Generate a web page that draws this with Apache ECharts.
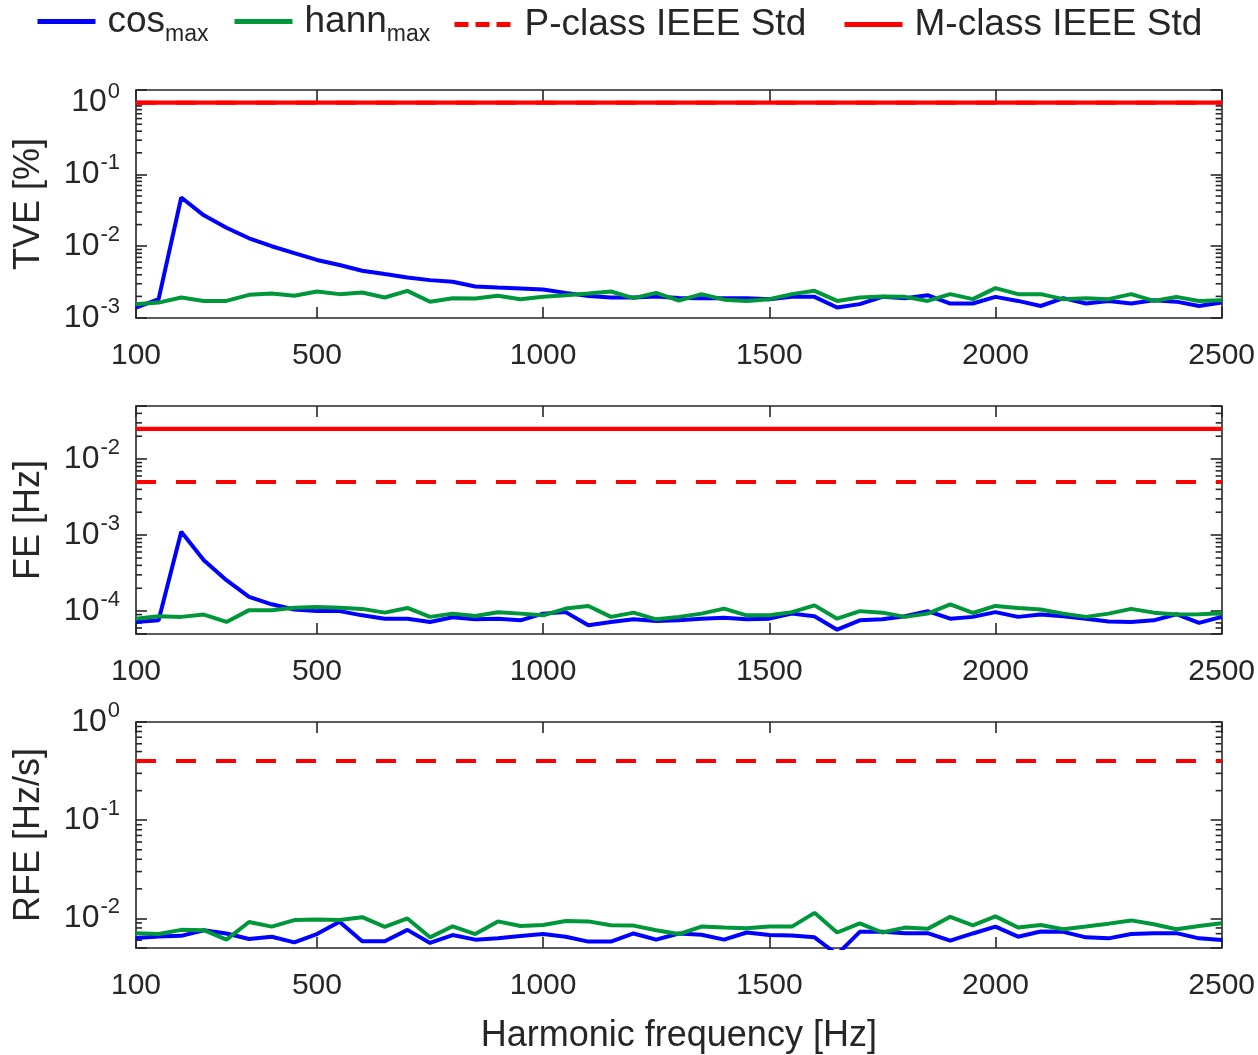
<!DOCTYPE html>
<html><head><meta charset="utf-8">
<script src="https://cdn.jsdelivr.net/npm/echarts@6/dist/echarts.min.js"></script>
<style>html,body{margin:0;padding:0;background:#fff}#c{width:1258px;height:1055px}</style>
</head><body><div id="c"></div>
<script>
// ---------- data ----------
const freq = [100,150,200,250,300,350,400,450,500,550,600,650,700,750,800,850,900,950,1000,1050,1100,1150,1200,1250,1300,1350,1400,1450,1500,1550,1600,1650,1700,1750,1800,1850,1900,1950,2000,2050,2100,2150,2200,2250,2300,2350,2400,2450,2500];
const xTickValues = [100,500,1000,1500,2000,2500];

const tveCos = [1.40e-3,1.83e-3,0.0477,0.0269,0.0181,0.0129,0.0100,0.0080,0.00644,0.00547,0.00456,0.00409,0.00367,0.00337,0.00320,0.00275,0.00266,0.00258,0.00249,0.00224,0.00203,0.00193,0.00193,0.00199,0.00190,0.00189,0.00189,0.00189,0.00183,0.00197,0.00197,0.00140,0.00156,0.00197,0.00189,0.00208,0.00159,0.00159,0.00197,0.00173,0.00147,0.00189,0.00159,0.00173,0.00159,0.00177,0.00169,0.00147,0.00164];
const tveHann = [1.56e-3,1.64e-3,1.93e-3,1.73e-3,1.73e-3,2.10e-3,2.19e-3,2.04e-3,2.34e-3,2.15e-3,2.27e-3,1.93e-3,2.39e-3,1.68e-3,1.89e-3,1.87e-3,2.04e-3,1.83e-3,1.97e-3,2.08e-3,2.19e-3,2.34e-3,1.89e-3,2.24e-3,1.75e-3,2.15e-3,1.80e-3,1.73e-3,1.83e-3,2.15e-3,2.39e-3,1.73e-3,1.93e-3,2.00e-3,1.97e-3,1.73e-3,2.15e-3,1.83e-3,2.61e-3,2.15e-3,2.15e-3,1.83e-3,1.89e-3,1.83e-3,2.15e-3,1.73e-3,1.97e-3,1.73e-3,1.77e-3];

const feCos = [7.2e-5,7.57e-5,1.11e-3,4.68e-4,2.55e-4,1.54e-4,1.23e-4,1.05e-4,1.0e-4,1.0e-4,8.8e-5,7.96e-5,7.96e-5,7.2e-5,8.3e-5,7.8e-5,7.96e-5,7.57e-5,9.27e-5,9.7e-5,6.5e-5,7.2e-5,7.8e-5,7.4e-5,7.57e-5,7.96e-5,8.2e-5,7.8e-5,7.96e-5,9.27e-5,8.55e-5,5.7e-5,7.57e-5,7.8e-5,8.55e-5,1.0e-4,7.96e-5,8.4e-5,9.7e-5,8.4e-5,9.0e-5,8.55e-5,7.96e-5,7.3e-5,7.2e-5,7.57e-5,9.1e-5,7.0e-5,8.4e-5];
const feHann = [7.96e-5,8.55e-5,8.4e-5,9.0e-5,7.2e-5,1.03e-4,1.03e-4,1.11e-4,1.13e-4,1.11e-4,1.07e-4,9.55e-5,1.10e-4,8.4e-5,9.27e-5,8.65e-5,9.66e-5,9.27e-5,8.8e-5,1.08e-4,1.17e-4,8.4e-5,9.55e-5,7.8e-5,8.4e-5,9.27e-5,1.08e-4,8.8e-5,8.8e-5,9.7e-5,1.19e-4,7.96e-5,1.0e-4,9.55e-5,8.4e-5,9.27e-5,1.23e-4,9.45e-5,1.17e-4,1.10e-4,1.05e-4,9.27e-5,8.4e-5,9.27e-5,1.07e-4,9.55e-5,9.0e-5,9.1e-5,9.4e-5];

const rfeCos = [6.32e-3,6.56e-3,6.65e-3,7.59e-3,7.03e-3,6.18e-3,6.5e-3,5.71e-3,6.93e-3,9.27e-3,5.85e-3,5.85e-3,7.65e-3,5.63e-3,6.77e-3,6.08e-3,6.27e-3,6.62e-3,6.93e-3,6.5e-3,5.81e-3,5.81e-3,7.03e-3,6.08e-3,7.03e-3,6.82e-3,6.08e-3,7.19e-3,6.77e-3,6.72e-3,6.42e-3,4.3e-3,7.3e-3,7.3e-3,7.08e-3,7.08e-3,5.95e-3,7.03e-3,8.26e-3,6.52e-3,7.36e-3,7.3e-3,6.42e-3,6.27e-3,6.93e-3,7.08e-3,7.08e-3,6.27e-3,6.03e-3];
const rfeHann = [7.08e-3,6.93e-3,7.65e-3,7.59e-3,6.08e-3,9.2e-3,8.26e-3,9.62e-3,9.77e-3,9.62e-3,1.03e-2,8.2e-3,1.0e-2,6.42e-3,8.32e-3,6.93e-3,9.33e-3,8.38e-3,8.58e-3,9.4e-3,9.33e-3,8.52e-3,8.45e-3,7.59e-3,6.93e-3,8.26e-3,8.07e-3,7.95e-3,8.26e-3,8.26e-3,1.14e-2,7.19e-3,8.92e-3,7.19e-3,8.07e-3,7.83e-3,1.04e-2,8.52e-3,1.05e-2,8.07e-3,8.58e-3,7.77e-3,8.26e-3,8.85e-3,9.55e-3,8.71e-3,7.77e-3,8.38e-3,8.92e-3];

// IEEE Std limits: [P-class, M-class]
const tveLimits = [1, 1];
const feLimits = [0.005, 0.025];
const rfeLimits = [0.4, null];

const seriesNames = ['cos', 'hann', 'P-class IEEE Std', 'M-class IEEE Std'];
const yTitles = ['TVE [%]', 'FE [Hz]', 'RFE [Hz/s]'];
const yRanges = [[1e-3, 1.5], [5e-5, 5e-2], [5e-3, 1]];

// ---------- chart ----------
const FONT = 'Liberation Sans, Arial, Helvetica, sans-serif';
const INK = '#262626';
const BLUE = '#0000FF', GREEN = '#00963A', RED = '#FF0000';
const gridTops = [90, 406, 722];
const gridH = 228;
const xMin = freq[0], xMax = freq[freq.length - 1];

const panels = [
  {cos: tveCos, hann: tveHann, lim: tveLimits},
  {cos: feCos, hann: feHann, lim: feLimits},
  {cos: rfeCos, hann: rfeHann, lim: rfeLimits}
];

function pairs(ys) { return freq.map((f, i) => [f, ys[i]]); }
function minorTicks(r) {
  const out = [];
  for (let k = Math.floor(Math.log10(r[0])) ; k <= Math.ceil(Math.log10(r[1])); k++) {
    for (let m = 2; m <= 9; m++) {
      const v = m * Math.pow(10, k);
      if (v > r[0] * 1.0001 && v < r[1] * 0.9999) out.push([v]);
    }
  }
  return out;
}
function supLabel(v) {
  const e = Math.log10(v);
  const r = Math.round(e);
  if (Math.abs(e - r) > 1e-6) return '';
  return '{b|10}{e|' + r + '}';
}

const grid = [], xAxis = [], yAxis = [], series = [];
panels.forEach((p, i) => {
  grid.push({left: 136, right: 36, top: gridTops[i], height: gridH, show: false});
  const axLine = {show: true, lineStyle: {color: INK, width: 1.6}};
  const tick = {show: true, inside: true, length: 11, lineStyle: {color: INK, width: 1.6}};
  xAxis.push({
    type: 'value', gridIndex: i, min: xMin, max: xMax, position: 'bottom',
    axisLine: axLine, splitLine: {show: false},
    axisTick: Object.assign({customValues: xTickValues}, tick),
    axisLabel: {show: true, customValues: xTickValues, margin: 23, fontSize: 30, color: INK, fontFamily: FONT,
      formatter: v => String(v)},
    name: i === 2 ? 'Harmonic frequency [Hz]' : '', nameLocation: 'middle', nameGap: 70,
    nameTextStyle: {fontSize: 36, color: INK, fontFamily: FONT}
  });
  xAxis.push({
    type: 'value', gridIndex: i, min: xMin, max: xMax, position: 'top',
    axisLine: axLine, splitLine: {show: false},
    axisTick: Object.assign({customValues: xTickValues}, tick),
    axisLabel: {show: false}
  });
  const r = yRanges[i];
  yAxis.push({
    type: 'log', logBase: 10, gridIndex: i, min: r[0], max: r[1], position: 'left',
    axisLine: axLine, splitLine: {show: false},
    axisTick: tick,
    axisLabel: {
      show: true, margin: 16, formatter: supLabel, color: INK, fontFamily: FONT,
      rich: {
        b: {fontSize: 32, color: INK, fontFamily: FONT},
        e: {fontSize: 22, color: INK, fontFamily: FONT, padding: [0, 0, 22, 1]}
      }
    },
    name: yTitles[i], nameLocation: 'middle', nameGap: 89,
    nameTextStyle: {fontSize: 36, color: INK, fontFamily: FONT}
  });
  yAxis.push({
    type: 'log', logBase: 10, gridIndex: i, min: r[0], max: r[1], position: 'right',
    axisLine: axLine, splitLine: {show: false},
    axisTick: tick,
    axisLabel: {show: false}
  });

  const xi = 2 * i, yi = 2 * i;
  series.push({name: seriesNames[0], type: 'line', xAxisIndex: xi, yAxisIndex: yi, data: pairs(p.cos),
    symbol: 'none', lineStyle: {color: BLUE, width: 4}, itemStyle: {color: BLUE}, z: 3});
  series.push({name: seriesNames[1], type: 'line', xAxisIndex: xi, yAxisIndex: yi, data: pairs(p.hann),
    symbol: 'none', lineStyle: {color: GREEN, width: 4}, itemStyle: {color: GREEN}, z: 4});
  if (p.lim[0] != null) series.push({name: seriesNames[2], type: 'line', xAxisIndex: xi, yAxisIndex: yi,
    data: [[xMin, p.lim[0]], [xMax, p.lim[0]]], symbol: 'none',
    lineStyle: {color: RED, width: 4, type: [20, 20]}, itemStyle: {color: RED}, z: 5});
  if (p.lim[1] != null) series.push({name: seriesNames[3], type: 'line', xAxisIndex: xi, yAxisIndex: yi,
    data: [[xMin, p.lim[1]], [xMax, p.lim[1]]], symbol: 'none',
    lineStyle: {color: RED, width: 4.2}, itemStyle: {color: RED}, z: 6});
  series.push({
    type: 'custom', xAxisIndex: xi, yAxisIndex: yi, data: minorTicks(r), clip: false, silent: true, z: 2,
    encode: {y: 0},
    renderItem: function (params, api) {
      const v = api.value(0);
      const a = api.coord([xMin, v]);
      const b = api.coord([xMax, v]);
      const st = {stroke: INK, lineWidth: 1.6};
      return {type: 'group', children: [
        {type: 'line', shape: {x1: a[0], y1: a[1], x2: a[0] + 6, y2: a[1]}, style: st},
        {type: 'line', shape: {x1: b[0], y1: b[1], x2: b[0] - 6, y2: b[1]}, style: st}
      ]};
    }
  });
});

const legendRich = {
  b: {fontSize: 37, color: INK, fontFamily: FONT, padding: [0, 0, 0, 7]},
  s: {fontSize: 23, color: INK, fontFamily: FONT, padding: [26, 0, 0, 0]}
};
const legendText = {
  'cos': '{b|cos}{s|max}',
  'hann': '{b|hann}{s|max}',
  'P-class IEEE Std': '{b|P-class IEEE Std}',
  'M-class IEEE Std': '{b|M-class IEEE Std}'
};
const legendLeft = [35, 232, 452, 842];
const legendTop = [3, 3, 6, 6];
const legend = seriesNames.map((n, k) => ({
  data: [k === 2 ? {name: n, lineStyle: {type: [14, 7], width: 5}} : {name: n}],
  left: legendLeft[k], top: legendTop[k], itemWidth: 58, itemHeight: 16, padding: 0,
  selectedMode: false,
  itemStyle: {opacity: 0},
  lineStyle: {width: 5},
  formatter: nm => legendText[nm],
  textStyle: {rich: legendRich, color: INK, fontFamily: FONT}
}));

const chart = echarts.init(document.getElementById('c'), null, {renderer: 'canvas'});
chart.setOption({
  animation: false,
  backgroundColor: '#fff',
  textStyle: {fontFamily: FONT},
  legend, grid, xAxis, yAxis, series
});
</script>
</body></html>
